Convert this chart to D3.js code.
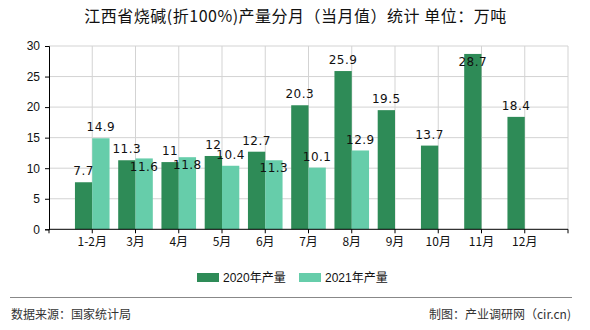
<!DOCTYPE html>
<html><head><meta charset="utf-8">
<script src="https://cdn.jsdelivr.net/npm/d3@7"></script>
<style>
html,body{margin:0;padding:0;background:#fff;}
svg{display:block;font-family:"Noto Sans CJK SC","Liberation Sans",sans-serif;}
</style></head>
<body><svg id="c" width="590" height="330"></svg>
<script>
const categories = ["1-2月","3月","4月","5月","6月","7月","8月","9月","10月","11月","12月",""];
const series2020 = [7.7,11.3,11,12,12.7,20.3,25.9,19.5,13.7,28.7,18.4,null];
const series2021 = [14.9,11.6,11.8,10.4,11.3,10.1,12.9,null,null,null,null,null];
const seriesNames = ["2020年产量","2021年产量"];
const yTicks = [0,5,10,15,20,25,30];
const titleText = "江西省烧碱(折100%)产量分月（当月值）统计 单位：万吨";
const sourceText = "数据来源：国家统计局";
const makerText = "制图：产业调研网（cir.cn)";

const colors = ["#2e8b57","#66cdaa"];
const svg = d3.select("#c");
const L=49, R=568, T=46, B=229.3;
const x = d3.scaleBand().domain(categories).range([L,R]).padding(0);
const y = d3.scaleLinear().domain([0,30]).range([B,T]);
const bw = 17.3;
const cx = c => x(c) + x.bandwidth();

// title
svg.append("text").attr("x",295.5).attr("y",22).attr("text-anchor","middle")
  .attr("font-size",16).attr("letter-spacing","0.5px").attr("fill","#111").text(titleText);

// grid
const g = svg.append("g");
g.selectAll(".hg").data(yTicks.filter(d=>d>0)).enter().append("line")
  .attr("x1",L).attr("x2",R).attr("y1",d=>y(d)).attr("y2",d=>y(d))
  .attr("stroke","#d3d3d3").attr("stroke-width",1);
const vt = categories.map(c=>cx(c));
g.selectAll(".vg").data(vt).enter().append("line")
  .attr("x1",d=>d).attr("x2",d=>d).attr("y1",T).attr("y2",B)
  .attr("stroke","#d3d3d3").attr("stroke-width",1);

// bars
const data = categories.map((c,i)=>({c, a:series2020[i], b:series2021[i]}));
const bars = svg.append("g");
data.forEach(d=>{
  if(d.a!=null) bars.append("rect").attr("x",cx(d.c)-bw).attr("y",y(d.a)).attr("width",bw).attr("height",B-y(d.a)).attr("fill",colors[0]);
  if(d.b!=null) bars.append("rect").attr("x",cx(d.c)).attr("y",y(d.b)).attr("width",bw).attr("height",B-y(d.b)).attr("fill",colors[1]);
});

// axes
const ax = svg.append("g").attr("transform",`translate(0,${B})`);
ax.append("line").attr("x1",L).attr("x2",R).attr("y1",0).attr("y2",0).attr("stroke","#000");
ax.selectAll(".t").data([L].concat(vt)).enter().append("line")
  .attr("x1",d=>d).attr("x2",d=>d).attr("y1",0).attr("y2",4).attr("stroke","#000");
ax.selectAll(".tl").data(categories.filter(c=>c)).enter().append("text")
  .attr("x",c=>cx(c)).attr("y",17).attr("text-anchor","middle")
  .attr("font-size",12).attr("fill","#111").text(c=>c);

const yAxis = d3.axisLeft(y).tickValues(yTicks).tickSize(4).tickPadding(5);
const ay = svg.append("g").attr("transform",`translate(${L},0)`).call(yAxis);
ay.select(".domain").attr("stroke","#000");
ay.selectAll(".tick line").attr("stroke","#000");
ay.selectAll(".tick text").attr("font-size",12).attr("fill","#111")
  .attr("font-family","'Liberation Sans',sans-serif");

// value labels
const lab = svg.append("g").attr("font-size",12).attr("fill","#111")
  .attr("font-family","'DejaVu Sans','Liberation Sans',sans-serif")
  .attr("letter-spacing","0.5px").attr("text-anchor","middle");
const place = v => { let p = y(v)-11; if (p-6 < T) p = y(v)+8; return p; };
data.forEach(d=>{
  let ya = null;
  if(d.a!=null){ ya = place(d.a); lab.append("text").attr("x",cx(d.c)-bw/2).attr("y",ya).attr("dy","0.35em").text(d.a); }
  if(d.b!=null){
    let yb = place(d.b);
    if(ya!=null && Math.abs(yb-ya)<9) yb = y(d.b)+8;
    lab.append("text").attr("x",cx(d.c)+bw/2).attr("y",yb).attr("dy","0.35em").text(d.b);
  }
});

// legend
const lg = svg.append("g");
const lx = [197,299];
seriesNames.forEach((n,i)=>{
  lg.append("rect").attr("x",lx[i]).attr("y",273).attr("width",22).attr("height",9).attr("fill",colors[i]);
  lg.append("text").attr("x",lx[i]+26).attr("y",278).attr("dy","0.35em").attr("font-size",12)
    .attr("fill","#111").attr("font-family","'Liberation Sans','Noto Sans CJK SC',sans-serif").text(n);
});

// footer
svg.append("line").attr("x1",10).attr("x2",572).attr("y1",297.5).attr("y2",297.5).attr("stroke","#888").attr("stroke-width",1);
svg.append("text").attr("x",11).attr("y",315).attr("dy","0.35em").attr("font-size",12).attr("fill","#333").text(sourceText);
svg.append("text").attr("x",571).attr("y",315).attr("dy","0.35em").attr("text-anchor","end").attr("font-size",12).attr("fill","#333").text(makerText);
</script></body></html>
